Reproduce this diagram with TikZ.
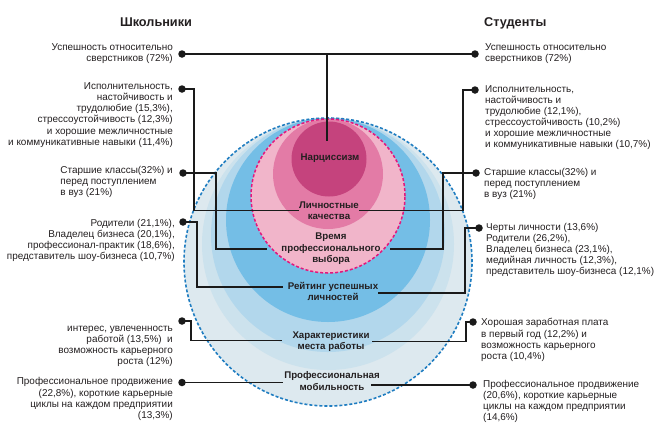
\documentclass[tikz,border=0pt]{standalone}
\usepackage{fontspec}
\setmainfont{Liberation Sans}
\definecolor{textc}{HTML}{231F20}
\definecolor{linec}{HTML}{1A1A1A}
\definecolor{bout}{HTML}{DDE9EF}
\definecolor{bband3}{HTML}{CCE2ED}
\definecolor{bband2}{HTML}{B2D7EC}
\definecolor{bbright}{HTML}{74BEE6}
\definecolor{blued}{HTML}{1F7DC1}
\definecolor{pinkl}{HTML}{F1B5CA}
\definecolor{pinkm}{HTML}{E37BA6}
\definecolor{pinkd}{HTML}{C5437D}
\definecolor{magd}{HTML}{E3177D}
\begin{document}
\begin{tikzpicture}[x=1pt,y=-1pt,
  txt/.style={font=\fontsize{9.95}{11.1}\selectfont, text=textc, inner sep=0pt},
  lbl/.style={font=\bfseries\fontsize{9.7}{11.5}\selectfont, text=textc, inner sep=0pt, align=center},
  hd/.style={font=\bfseries\fontsize{12.7}{14}\selectfont, text=textc, inner sep=0pt},
  conn/.style={line width=1.6pt, draw=linec},
  dotc/.style={circle, fill=linec, inner sep=0pt, minimum size=7.5pt},
  bdash/.style={draw=blued, line width=1.6pt, dash pattern=on 3pt off 2pt},
  mdash/.style={draw=magd, line width=1.5pt, dash pattern=on 3pt off 2pt}]
\useasboundingbox (0,0) rectangle (655,424);
\fill[white] (0,0) rectangle (655,424);
% circles
\fill[bout] (328,262) circle[radius=144pt];
\fill[bband3] (328,244) circle[radius=126pt];
\fill[bband2] (328,235) circle[radius=117pt];
\fill[bbright] (328,220) circle[radius=102pt];
\fill[pinkl] (328,196) circle[radius=77pt];
\fill[pinkm] (328,174) circle[radius=55pt];
\fill[pinkd] (329,159) circle[radius=37.5pt];
\draw[bdash] (328,262) circle[radius=144pt];
\draw[mdash] (328,196) circle[radius=77pt];
% headings
\node[hd] (hL) at (156,22) {Школьники};
\node[hd, anchor=west] (hR) at (484,23) {Студенты};
% circle labels
\node[lbl] (nar) at (330,158) {Нарциссизм};
\node[lbl] (lk) at (329,210.5) {Личностные\\качества};
\node[lbl] (vp) at (331,249) {Время\\профессионального\\выбора};
\node[lbl] (rt) at (333,291.5) {Рейтинг успешных\\личностей};
\node[lbl] (hm) at (331,341.5) {Характеристики\\места работы};
\node[lbl] (pm) at (332,381) {Профессиональная\\мобильность};
% left texts
\node[txt, align=right, anchor=east] (tL1) at (173,54) {Успешность относительно\\сверстников (72\%)};
\node[txt, align=right, anchor=east] (tL2) at (173,115) {Исполнительность,\\настойчивость и\\трудолюбие (15,3\%),\\стрессоустойчивость (12,3\%)\\и хорошие межличностные\\и коммуникативные навыки (11,4\%)};
\node[txt, align=left, anchor=east] (tL3) at (173,182) {Старшие классы(32\%) и\\перед поступлением\\в вуз (21\%)};
\node[txt, align=right, anchor=east] (tL4) at (175,240.5) {Родители (21,1\%),\\Владелец бизнеса (20,1\%),\\профессионал-практик (18,6\%),\\представитель шоу-бизнеса (10,7\%)};
\node[txt, align=right, anchor=east] (tL5) at (173,346) {интерес, увлеченность\\работой (13,5\%)~ и\\возможность карьерного\\роста (12\%)};
\node[txt, align=right, anchor=east] (tL6) at (173,399) {Профессиональное продвижение\\(22,8\%), короткие карьерные\\циклы на каждом предприятии\\(13,3\%)};
% right texts
\node[txt, align=left, anchor=west] (tR1) at (485,54) {Успешность относительно\\сверстников (72\%)};
\node[txt, align=left, anchor=west] (tR2) at (485,117.5) {Исполнительность,\\настойчивость и\\трудолюбие (12,1\%),\\стрессоустойчивость (10,2\%)\\и хорошие межличностные\\и коммуникативные навыки (10,7\%)};
\node[txt, align=left, anchor=west] (tR3) at (484,184) {Старшие классы(32\%) и\\перед поступлением\\в вуз (21\%)};
\node[txt, align=left, anchor=west] (tR4) at (486,250) {Черты личности (13,6\%)\\Родители (26,2\%),\\Владелец бизнеса (23,1\%),\\медийная личность (12,3\%),\\представитель шоу-бизнеса (12,1\%)};
\node[txt, align=left, anchor=west] (tR5) at (481,340) {Хорошая заработная плата\\в первый год (12,2\%) и\\возможность карьерного\\роста (10,4\%)};
\node[txt, align=left, anchor=west] (tR6) at (483,401.5) {Профессиональное продвижение\\(20,6\%), короткие карьерные\\циклы на каждом предприятии\\(14,6\%)};
% dots
\node[dotc] (dL1) at (182,54) {};
\node[dotc] (dL2) at (182,89) {};
\node[dotc] (dL3) at (183,173) {};
\node[dotc] (dL4) at (183,222) {};
\node[dotc] (dL5) at (182,321) {};
\node[dotc] (dL6) at (182,382.5) {};
\node[dotc] (dR1) at (475,54) {};
\node[dotc] (dR2) at (475,90) {};
\node[dotc] (dR3) at (476,173) {};
\node[dotc] (dR4) at (479,228) {};
\node[dotc] (dR5) at (473,322) {};
\node[dotc] (dR6) at (473,385) {};
% connector ends
\coordinate (nartop) at (327,141);
\coordinate (lkL) at (lk.west);
\coordinate (lkR) at (lk.east);
\coordinate (vpL) at ([xshift=-14pt]vp.west);
\coordinate (vpR) at ([xshift=9pt]vp.east);
\coordinate (rtL) at ([xshift=-5pt,yshift=4.5pt]rt.west);
\coordinate (rtR) at ([yshift=-1.5pt]rt.east);
\coordinate (hmL) at ([xshift=-10pt,yshift=1pt]hm.west);
\coordinate (hmR) at ([xshift=2pt]hm.east);
\coordinate (pmL) at ([xshift=-1pt]pm.west);
\coordinate (pmR) at ([xshift=-9pt,yshift=-4pt]pm.east);
\coordinate (xL2) at (194,0);
\coordinate (xL3) at (216,0);
\coordinate (xL4) at (197,0);
\coordinate (xL5) at (191,0);
\coordinate (xR2) at (463,0);
\coordinate (xR3) at (443,0);
\coordinate (xR4) at (465,0);
\coordinate (xR5) at (466,0);
% connectors
\draw[conn] (dL1.center) -- (dR1.center);
\draw[conn] (nartop |- dL1.center) -- (nartop);
\draw[conn] (dL2.center) -| (xL2 |- lkL) -- (lkL);
\draw[conn] (dR2.center) -| (xR2 |- lkR) -- (lkR);
\draw[conn] (dL3.center) -| (xL3 |- vpL) -- (vpL);
\draw[conn] (dR3.center) -| (xR3 |- vpR) -- (vpR);
\draw[conn] (dL4.center) -| (xL4 |- rtL) -- (rtL);
\draw[conn] (dR4.center) -| (xR4 |- rtR) -- (rtR);
\draw[conn] (dL5.center) -| (xL5 |- hmL) -- (hmL);
\draw[conn] (dR5.center) -| (xR5 |- hmR) -- (hmR);
\draw[conn] (dL6.center) -- (pmL |- dL6.center);
\draw[conn] (dR6.center) -- (pmR |- dR6.center);
\end{tikzpicture}
\end{document}
